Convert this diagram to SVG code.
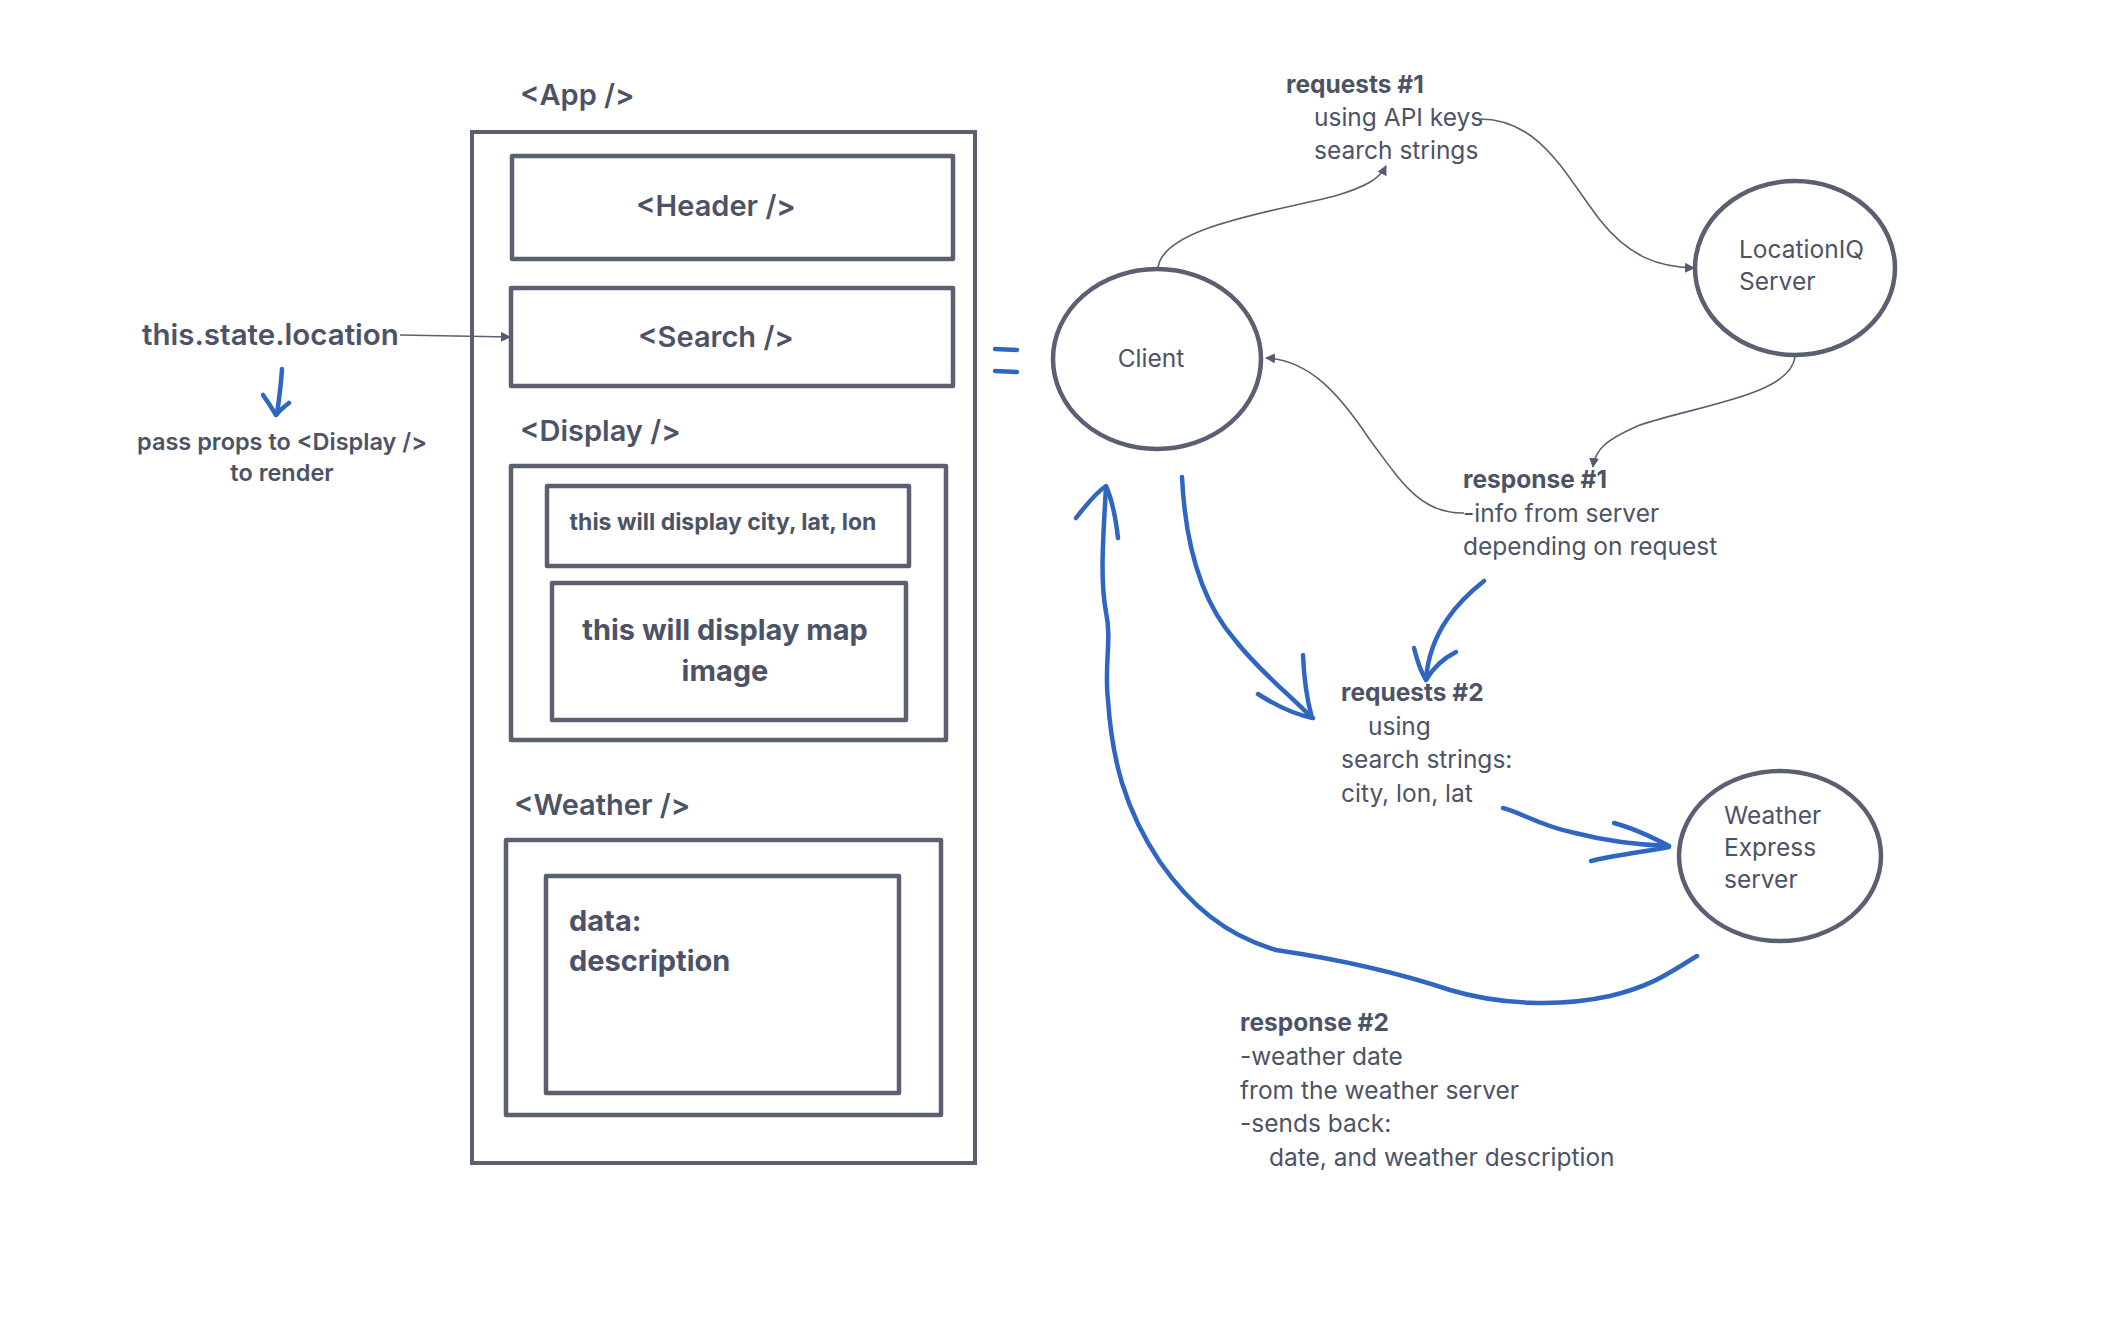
<svg xmlns="http://www.w3.org/2000/svg" width="2114" height="1326" viewBox="0 0 2114 1326">
  <defs>
    <marker id="tri" viewBox="0 0 10 10" refX="9" refY="5" markerWidth="10" markerHeight="10" markerUnits="userSpaceOnUse" orient="auto">
      <path d="M0,0 L10,5 L0,10 z" fill="#565b6d"/>
    </marker>
  </defs>
  <style>
    text { font-family: Inter, "Liberation Sans", sans-serif; fill: #4d5366; }
    .box { fill: none; stroke: #5a5f71; stroke-width: 4.5; stroke-linejoin: round; }
    .outer { fill: none; stroke: #5a5f71; stroke-width: 4; }
    .node { fill: none; stroke: #5a5f71; stroke-width: 4.5; }
    .thin { fill: none; stroke: #5a5f71; stroke-width: 1.6; }
    .blue { fill: none; stroke: #2f66c2; stroke-width: 4.5; stroke-linecap: round; stroke-linejoin: round; }
    .tag { font-size: 29px; font-weight: 600; }
    .lbl { font-size: 24.5px; font-weight: 400; }
    .lblb { font-size: 24.5px; font-weight: 700; }
  </style>
  <rect width="2114" height="1326" fill="#ffffff"/>

  <!-- component tree -->
  <g id="app">
    <text class="tag" x="520" y="105">&lt;App /&gt;</text>
    <rect class="outer" x="472" y="132" width="503" height="1031"/>
  </g>
  <g id="header">
    <rect class="box" x="512" y="156" width="441" height="103"/>
    <text class="tag" x="716" y="216" text-anchor="middle">&lt;Header /&gt;</text>
  </g>
  <g id="search">
    <rect class="box" x="511" y="288" width="442" height="98"/>
    <text class="tag" x="716" y="347" text-anchor="middle">&lt;Search /&gt;</text>
  </g>
  <g id="display">
    <text class="tag" x="520" y="441">&lt;Display /&gt;</text>
    <rect class="box" x="511" y="466" width="435" height="274"/>
  </g>
  <g id="display-city">
    <rect class="box" x="547" y="486" width="362" height="80"/>
    <text x="723" y="530" text-anchor="middle" style="font-size:23px;font-weight:700">this will display city, lat, lon</text>
  </g>
  <g id="display-map">
    <rect class="box" x="552" y="583" width="354" height="137"/>
    <text x="725" y="640" text-anchor="middle" style="font-size:29px;font-weight:700">this will display map</text>
    <text x="725" y="681" text-anchor="middle" style="font-size:29px;font-weight:700">image</text>
  </g>
  <g id="weather">
    <text class="tag" x="514" y="815">&lt;Weather /&gt;</text>
    <rect class="box" x="506" y="840" width="435" height="275"/>
  </g>
  <g id="weather-data">
    <rect class="box" x="546" y="876" width="353" height="217"/>
    <text x="569" y="931" style="font-size:29px;font-weight:700">data:</text>
    <text x="569" y="971" style="font-size:29px;font-weight:700">description</text>
  </g>

  <g id="state">
    <text x="142" y="345" style="font-size:29.5px;font-weight:600">this.state.location</text>
    <text x="282" y="450" text-anchor="middle" style="font-size:23.5px;font-weight:600">pass props to &lt;Display /&gt;</text>
    <text x="282" y="481" text-anchor="middle" style="font-size:23.5px;font-weight:600">to render</text>
  </g>

  <!-- network side -->
  <g id="client">
    <ellipse class="node" cx="1157" cy="359" rx="104" ry="90"/>
    <text class="lbl" x="1151" y="367" text-anchor="middle">Client</text>
  </g>
  <g id="locationiq">
    <ellipse class="node" cx="1795" cy="268" rx="100" ry="87"/>
    <text class="lbl" x="1739" y="258">LocationIQ</text>
    <text class="lbl" x="1739" y="290">Server</text>
  </g>
  <g id="weather-server">
    <ellipse class="node" cx="1780" cy="856" rx="101" ry="85"/>
    <text class="lbl" x="1724" y="824">Weather</text>
    <text class="lbl" x="1724" y="856">Express</text>
    <text class="lbl" x="1724" y="888">server</text>
  </g>

  <g id="notes">
    <text class="lblb" x="1286" y="93">requests #1</text>
    <text class="lbl" x="1314" y="126">using API keys</text>
    <text class="lbl" x="1314" y="159">search strings</text>

    <text class="lblb" x="1463" y="488">response #1</text>
    <text class="lbl" x="1463" y="522">-info from server</text>
    <text class="lbl" x="1463" y="555">depending on request</text>

    <text class="lblb" x="1341" y="701">requests #2</text>
    <text class="lbl" x="1368" y="735">using</text>
    <text class="lbl" x="1341" y="768">search strings:</text>
    <text class="lbl" x="1341" y="802">city, lon, lat</text>

    <text class="lblb" x="1240" y="1031">response #2</text>
    <text class="lbl" x="1240" y="1065">-weather date</text>
    <text class="lbl" x="1240" y="1099">from the weather server</text>
    <text class="lbl" x="1240" y="1132">-sends back:</text>
    <text class="lbl" x="1269" y="1166">date, and weather description</text>
  </g>

  <g id="connectors">
    <!-- thin connectors -->
    <path class="thin" d="M400,335 L510,337" marker-end="url(#tri)"/>
    <path class="thin" d="M1158,268 C1162,228 1270,212 1335,196 C1368,186 1380,178 1386,166" marker-end="url(#tri)"/>
    <path class="thin" d="M1478,119 C1540,118 1565,175 1600,220 C1630,258 1660,267 1694,268" marker-end="url(#tri)"/>
    <path class="thin" d="M1795,357 C1790,395 1700,405 1640,425 C1605,440 1595,450 1593,467" marker-end="url(#tri)"/>
    <path class="thin" d="M1464,513 C1420,514 1400,480 1370,440 C1340,395 1310,360 1266,358" marker-end="url(#tri)"/>

    <!-- hand-drawn blue strokes -->
    <path class="blue" d="M282,369 C281,385 279,400 277,414"/>
    <path class="blue" d="M263,395 C268,402 273,410 276,415 C280,410 285,406 289,403"/>

    <path class="blue" d="M995,349 L1017,350"/>
    <path class="blue" d="M995,371 L1017,372"/>

    <path class="blue" d="M1182,477 C1185,540 1200,600 1235,640 C1260,672 1290,695 1311,717"/>
    <path class="blue" d="M1303,655 C1304,680 1307,700 1312,718"/>
    <path class="blue" d="M1258,694 C1275,705 1292,714 1313,718"/>

    <path class="blue" d="M1484,581 C1460,600 1430,630 1426,679"/>
    <path class="blue" d="M1414,648 C1417,660 1421,672 1426,680 C1433,668 1444,658 1456,652"/>

    <path class="blue" d="M1503,808 C1520,812 1540,826 1575,833 C1610,842 1640,845 1669,846"/>
    <path class="blue" d="M1614,823 C1633,828 1650,836 1669,846"/>
    <path class="blue" d="M1591,861 C1610,856 1630,854 1669,847"/>

    <path class="blue" d="M1697,956 C1670,972 1655,985 1610,996 C1560,1007 1500,1005 1450,990 C1390,970 1330,958 1276,950 C1225,935 1190,905 1160,862 C1125,810 1112,760 1108,700 C1104,665 1112,640 1106,612 C1100,580 1103,540 1106,487"/>
    <path class="blue" d="M1076,518 C1086,505 1097,492 1106,486 C1112,500 1116,520 1118,538"/>
  </g>
</svg>
